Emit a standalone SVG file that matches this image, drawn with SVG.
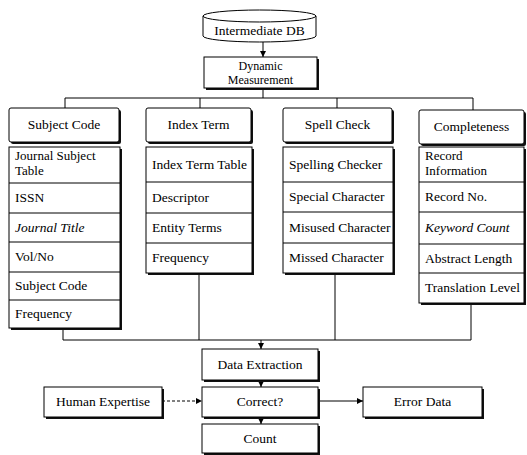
<svg xmlns="http://www.w3.org/2000/svg" width="527" height="455" viewBox="0 0 527 455">
  <style>
    text { font-family: "Liberation Serif", "DejaVu Serif", "Times New Roman", serif; font-size: 13.5px; fill: #000; }
    .c { text-anchor: middle; }
    .it { font-style: italic; }
    .sm { font-size: 12px; }
    .two { font-size: 13px; }
    .box { fill: #fff; stroke: #000; stroke-width: 1; }
    .sh { fill: #111; }
    .sep { stroke: #000; stroke-width: 1; }
    .ln { fill: none; stroke: #000; stroke-width: 1; }
    .dash { stroke-dasharray: 3 2; }
  </style>
  <defs>
    <marker id="arr" viewBox="0 0 8 8" refX="8" refY="4" markerWidth="6" markerHeight="6" orient="auto" markerUnits="userSpaceOnUse">
      <path d="M0,0 L8,4 L0,8 Z" fill="#000"/>
    </marker>
  </defs>
  <rect width="527" height="455" fill="#fff"/>

  <!-- connectors -->
  <g id="connectors">
    <line class="ln" x1="263" y1="42" x2="263" y2="57" marker-end="url(#arr)"/>
    <line class="ln" x1="263" y1="88" x2="263" y2="98"/>
    <polyline class="ln" points="65,108 65,98 473,98 473,110"/>
    <line class="ln" x1="200" y1="98" x2="200" y2="108"/>
    <line class="ln" x1="337" y1="98" x2="337" y2="108"/>
    <polyline class="ln" points="63,328 63,340 471,340 471,303"/>
    <line class="ln" x1="199" y1="273" x2="199" y2="340"/>
    <line class="ln" x1="335" y1="273" x2="335" y2="340"/>
    <line class="ln" x1="261" y1="340" x2="261" y2="349" marker-end="url(#arr)"/>
    <line class="ln" x1="261" y1="380" x2="261" y2="387" marker-end="url(#arr)"/>
    <line class="ln" x1="261" y1="417" x2="261" y2="424" marker-end="url(#arr)"/>
    <line class="ln dash" x1="162" y1="401" x2="202" y2="401" marker-end="url(#arr)"/>
    <line class="ln" x1="318" y1="401" x2="363" y2="401" marker-end="url(#arr)"/>
  </g>

  <!-- database -->
  <g id="intermediate-db">
    <path class="box" d="M203,16 L203,36 A56.5,6 0 0 0 316,36 L316,16"/>
    <ellipse class="box" cx="259.5" cy="16" rx="56.5" ry="6"/>
    <text class="c" x="259.5" y="35">Intermediate DB</text>
  </g>

  <g id="dynamic-measurement">
    <rect class="sh" x="206" y="59" width="113" height="31"/>
    <rect class="box" x="204" y="57" width="113" height="31"/>
    <text class="c sm" x="260.5" y="70">Dynamic<tspan x="260.5" dy="13.5">Measurement</tspan></text>
  </g>

  <!-- Subject Code column -->
  <g id="subject-code">
    <rect class="sh" x="11" y="110" width="110" height="34" rx="2"/>
    <rect class="box" x="9" y="108" width="110" height="34" rx="2"/>
    <text class="c" x="64" y="129">Subject Code</text>
    <rect class="sh" x="11" y="149" width="111" height="181"/>
    <rect class="box" x="9" y="147" width="111" height="181"/>
    <line class="sep" x1="9" y1="183" x2="120" y2="183"/>
    <line class="sep" x1="9" y1="213" x2="120" y2="213"/>
    <line class="sep" x1="9" y1="242" x2="120" y2="242"/>
    <line class="sep" x1="9" y1="272" x2="120" y2="272"/>
    <line class="sep" x1="9" y1="300" x2="120" y2="300"/>
    <text class="two" x="15" y="160">Journal Subject<tspan x="15" dy="15">Table</tspan></text>
    <text x="15" y="202">ISSN</text>
    <text class="it" x="15" y="232">Journal Title</text>
    <text x="15" y="261">Vol/No</text>
    <text x="15" y="290">Subject Code</text>
    <text x="15" y="318">Frequency</text>
  </g>

  <!-- Index Term column -->
  <g id="index-term">
    <rect class="sh" x="148" y="110" width="105" height="34" rx="2"/>
    <rect class="box" x="146" y="108" width="105" height="34" rx="2"/>
    <text class="c" x="198.5" y="129">Index Term</text>
    <rect class="sh" x="148" y="149" width="106" height="126"/>
    <rect class="box" x="146" y="147" width="106" height="126"/>
    <line class="sep" x1="146" y1="182" x2="252" y2="182"/>
    <line class="sep" x1="146" y1="213" x2="252" y2="213"/>
    <line class="sep" x1="146" y1="243" x2="252" y2="243"/>
    <text x="152" y="169">Index Term Table</text>
    <text x="152" y="202">Descriptor</text>
    <text x="152" y="232">Entity Terms</text>
    <text x="152" y="262">Frequency</text>
  </g>

  <!-- Spell Check column -->
  <g id="spell-check">
    <rect class="sh" x="285" y="110" width="109" height="34" rx="2"/>
    <rect class="box" x="283" y="108" width="109" height="34" rx="2"/>
    <text class="c" x="337.5" y="129">Spell Check</text>
    <rect class="sh" x="285" y="149" width="110" height="126"/>
    <rect class="box" x="283" y="147" width="110" height="126"/>
    <line class="sep" x1="283" y1="182" x2="393" y2="182"/>
    <line class="sep" x1="283" y1="212" x2="393" y2="212"/>
    <line class="sep" x1="283" y1="243" x2="393" y2="243"/>
    <text x="289" y="169">Spelling Checker</text>
    <text x="289" y="201">Special Character</text>
    <text x="289" y="232">Misused Character</text>
    <text x="289" y="262">Missed Character</text>
  </g>

  <!-- Completeness column -->
  <g id="completeness">
    <rect class="sh" x="421" y="112" width="105" height="34" rx="2"/>
    <rect class="box" x="419" y="110" width="105" height="34" rx="2"/>
    <text class="c" x="471.5" y="131">Completeness</text>
    <rect class="sh" x="421" y="149" width="105" height="156"/>
    <rect class="box" x="419" y="147" width="105" height="156"/>
    <line class="sep" x1="419" y1="182" x2="524" y2="182"/>
    <line class="sep" x1="419" y1="212" x2="524" y2="212"/>
    <line class="sep" x1="419" y1="244" x2="524" y2="244"/>
    <line class="sep" x1="419" y1="273" x2="524" y2="273"/>
    <text class="two" x="425" y="160">Record<tspan x="425" dy="15">Information</tspan></text>
    <text x="425" y="201">Record No.</text>
    <text class="it" x="425" y="232">Keyword Count</text>
    <text x="425" y="263">Abstract Length</text>
    <text x="425" y="292">Translation Level</text>
  </g>

  <!-- lower flow -->
  <g id="data-extraction">
    <rect class="sh" x="204" y="351" width="116" height="31"/>
    <rect class="box" x="202" y="349" width="116" height="31"/>
    <text class="c" x="260" y="369">Data Extraction</text>
  </g>
  <g id="correct">
    <rect class="sh" x="204" y="389" width="116" height="30"/>
    <rect class="box" x="202" y="387" width="116" height="30"/>
    <text class="c" x="260" y="406">Correct?</text>
  </g>
  <g id="count">
    <rect class="sh" x="204" y="426" width="116" height="29"/>
    <rect class="box" x="202" y="424" width="116" height="29"/>
    <text class="c" x="260" y="443">Count</text>
  </g>
  <g id="human-expertise">
    <rect class="sh" x="46" y="389" width="118" height="30"/>
    <rect class="box" x="44" y="387" width="118" height="30"/>
    <text class="c" x="103" y="406">Human Expertise</text>
  </g>
  <g id="error-data">
    <rect class="sh" x="365" y="389" width="119" height="30"/>
    <rect class="box" x="363" y="387" width="119" height="30"/>
    <text class="c" x="422.5" y="406">Error Data</text>
  </g>
</svg>
